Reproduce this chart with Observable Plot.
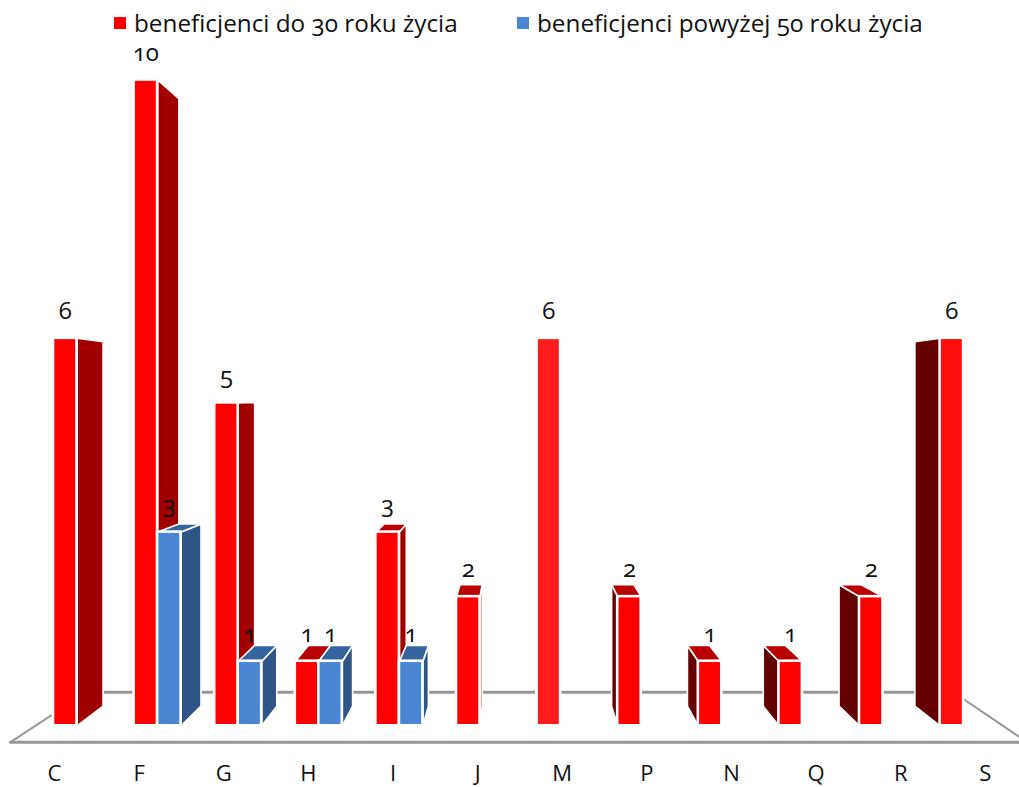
<!DOCTYPE html>
<html lang="pl">
<head>
<meta charset="utf-8">
<script src="https://cdn.jsdelivr.net/npm/d3@7"></script>
<script src="https://cdn.jsdelivr.net/npm/@observablehq/plot@0.6"></script>
<style>
html,body{margin:0;padding:0;background:#fff;overflow:hidden;}
#legend{position:relative;height:36px;font-family:"Open Sans",sans-serif;font-size:24.3px;line-height:26px;color:#111;font-variant-numeric:oldstyle-nums;}
#legend span{position:absolute;white-space:nowrap;}
#legend i{position:absolute;width:12px;height:12px;top:17px;}
svg{display:block;}
</style>
</head>
<body>
<div id="legend">
  <i style="left:114px;background:#ff0000"></i><span style="left:134px;top:9.5px">beneficjenci do 30 roku życia</span>
  <i style="left:517px;background:#4a86d4"></i><span style="left:537px;top:9.5px">beneficjenci powyżej 50 roku życia</span>
</div>
<div id="chart"></div>
<script>
const categories = ["C","F","G","H","I","J","M","P","N","Q","R","S"];
const under30 = [6,10,5,1,3,2,6,2,1,1,2,6];
const over50  = [null,3,1,1,1,null,null,null,null,null,null,null];

// Geometry of the pseudo-3D scene, in data units (category slot, value)
const barWidth = 0.2916;
const depth = 0.0594;
const vanishX = 5.732, vanishY = 5.115;
const tickSpread = 1.05;
const tickShift = 0.012;
const floorFront = -0.254, floorBack = 0.52;
const floorLeftFront = -0.533, floorLeftBack = 0.409, floorRightBack = 11.165, floorRightFront = 12.08;

const back = ([x, y]) => [x + depth * (vanishX - x), y + depth * (vanishY - y)];
const bars = (values, offset) => values.flatMap((v, i) => v == null ? [] : [{
  cat: categories[i], value: v, x1: i + offset, x2: i + offset + barWidth
}]);
const poly = (id, pts) => [...pts, pts[0]].map(([x, y]) => ({id, x, y}));

const rightSides = b => b.filter(d => d.x2 < vanishX).flatMap(d => poly(d.cat, [
  [d.x2, 0], [d.x2, d.value], back([d.x2, d.value]), back([d.x2, 0])]));
const leftSides = b => b.filter(d => d.x1 > vanishX).flatMap(d => poly(d.cat, [
  [d.x1, 0], [d.x1, d.value], back([d.x1, d.value]), back([d.x1, 0])]));
const tops = b => b.filter(d => d.value < vanishY - 0.5).flatMap(d => poly(d.cat, [
  [d.x1, d.value], [d.x2, d.value], back([d.x2, d.value]), back([d.x1, d.value])]));

const face = (rows, fill) => Plot.line(rows, {x: "x", y: "y", z: "id", fill, stroke: "white", strokeWidth: 1.6, curve: "linear"});
const front = (rows, fill) => Plot.rect(rows, {x1: "x1", x2: "x2", y1: 0, y2: "value", fill, stroke: "white", strokeWidth: 2.6});
const labels = (rows) => Plot.text(rows, {
  x: d => (d.x1 + d.x2) / 2, y: "value", text: d => String(d.value), dy: -27,
  fontSize: 24, fontFamily: "Open Sans", fill: "#111", fontVariant: "oldstyle-nums", lineAnchor: "middle"
});

const red = bars(under30, 0);
const blue = bars(over50, barWidth);
const tickPositions = categories.map((c, i) => i * tickSpread + tickShift);

const plot = Plot.plot({
  width: 1019, height: 751,
  marginLeft: 0, marginRight: 0, marginTop: 0, marginBottom: 24,
  style: {background: "#fff"},
  x: {type: "linear", domain: [0, 1], range: [53, 133.6], label: null},
  y: {type: "linear", domain: [0, 10], range: [689.3, 43.5], axis: null},
  marks: [
    Plot.line([
      ...[[floorLeftBack, floorBack], [floorRightBack, floorBack]].map(([x, y]) => ({id: "b", x, y})),
      ...[[floorLeftFront, floorFront], [floorRightFront, floorFront]].map(([x, y]) => ({id: "f", x, y}))
    ], {x: "x", y: "y", z: "id", stroke: "#969696", strokeWidth: 3, curve: "linear"}),
    Plot.line([
      ...[[floorLeftFront, floorFront], [floorLeftBack, floorBack]].map(([x, y]) => ({id: "l", x, y})),
      ...[[floorRightFront, floorFront], [floorRightBack, floorBack]].map(([x, y]) => ({id: "r", x, y}))
    ], {x: "x", y: "y", z: "id", stroke: "#969696", strokeWidth: 2, curve: "linear"}),
    face(rightSides(red), "#a00000"),
    face(leftSides(red), "#640000"),
    face(tops(red), "#bb0000"),
    front(red, d => d.cat === "M" ? "#ff1c1c" : d.cat === "S" ? "#ff0c0c" : "#ff0000"),
    face(rightSides(blue), "#2f5588"),
    face(tops(blue), "#35649f"),
    front(blue, "#4a86d4"),
    labels(red),
    labels(blue),
    Plot.axisX({
      ticks: tickPositions,
      tickFormat: d => categories[Math.round((d - tickShift) / tickSpread)],
      tickSize: 0, tickPadding: 2, label: null,
      fontSize: 22, fontFamily: "Open Sans", color: "#111"
    })
  ]
});
document.getElementById("chart").appendChild(plot);
</script>
</body>
</html>
